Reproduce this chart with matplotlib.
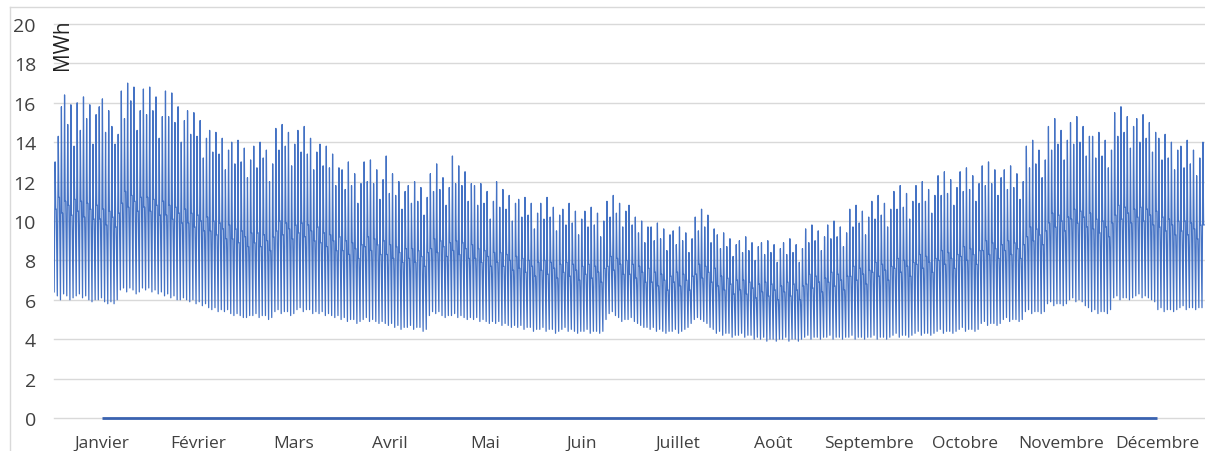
import numpy as np
import matplotlib
matplotlib.use("Agg")
import matplotlib.pyplot as plt
from matplotlib.lines import Line2D

# ---------------- data ----------------
months = ["Janvier", "Février", "Mars", "Avril", "Mai", "Juin", "Juillet",
          "Août", "Septembre", "Octobre", "Novembre", "Décembre"]
zero_series = [0, 0, 0, 0, 0, 0, 0, 0, 0, 0, 0, 0]
y_ticks = [0, 2, 4, 6, 8, 10, 12, 14, 16, 18, 20]

# daily peak of the hourly load (MWh), read week by week
day_high = [
    13.0, 14.3, 15.8, 16.4, 14.9, 15.9, 13.8,
    16.0, 14.6, 16.3, 15.2, 15.9, 13.9, 15.4,
    15.8, 16.2, 14.5, 15.6, 14.8, 13.9, 14.4,
    16.6, 15.2, 17.0, 16.1, 16.8, 14.6, 15.6,
    16.7, 15.4, 16.8, 15.6, 16.3, 14.2, 15.3,
    16.6, 15.3, 16.5, 15.0, 15.8, 14.0, 15.1,
    15.6, 14.4, 15.5, 14.3, 15.1, 13.2, 14.2,
    14.6, 13.5, 14.5, 13.4, 14.2, 12.6, 13.6,
    14.0, 12.9, 14.1, 13.0, 13.7, 12.2, 13.1,
    13.8, 12.7, 14.0, 13.2, 13.6, 12.0, 12.9,
    14.7, 13.6, 14.9, 13.8, 14.5, 12.8, 13.9,
    14.6, 13.5, 14.8, 13.4, 14.2, 12.6, 13.5,
    13.9, 12.8, 13.8, 12.7, 13.4, 11.8, 12.7,
    12.6, 11.6, 13.0, 11.8, 12.4, 10.9, 11.9,
    13.0, 12.0, 13.1, 11.9, 12.6, 11.1, 12.1,
    13.3, 11.4, 12.4, 11.3, 12.0, 10.6, 11.5,
    11.8, 10.9, 12.0, 11.0, 11.7, 10.3, 11.2,
    12.4, 11.5, 12.9, 11.6, 12.2, 10.8, 11.7,
    13.3, 11.9, 12.8, 11.8, 12.5, 11.0, 11.9,
    11.8, 10.8, 11.9, 10.9, 11.5, 10.1, 11.0,
    12.0, 10.7, 11.6, 10.6, 11.3, 10.0, 10.9,
    11.1, 10.2, 11.2, 10.3, 10.9, 9.6, 10.4,
    10.9, 10.1, 11.2, 10.2, 10.7, 9.5, 10.3,
    10.6, 9.8, 10.9, 9.9, 10.5, 9.3, 10.1,
    10.5, 9.7, 10.7, 9.8, 10.4, 9.2, 10.0,
    11.0, 10.2, 11.3, 10.4, 10.9, 9.7, 10.5,
    10.8, 9.8, 10.2, 9.4, 10.0, 8.9, 9.7,
    9.7, 9.0, 9.9, 9.1, 9.6, 8.5, 9.3,
    9.5, 8.8, 9.7, 9.0, 9.4, 8.4, 9.1,
    10.2, 9.5, 10.6, 9.7, 10.3, 8.9, 9.6,
    9.3, 8.6, 9.4, 8.7, 9.1, 8.2, 8.8,
    9.0, 8.4, 9.2, 8.5, 8.9, 8.0, 8.7,
    8.9, 8.3, 9.0, 8.4, 8.8, 7.9, 8.6,
    8.9, 8.3, 9.1, 8.4, 8.8, 7.9, 8.6,
    9.6, 8.9, 9.8, 9.0, 9.5, 8.5, 9.2,
    9.8, 9.1, 10.0, 9.2, 9.7, 8.7, 9.4,
    10.6, 9.7, 10.8, 9.9, 10.5, 9.3, 10.2,
    11.0, 10.1, 11.3, 10.3, 10.9, 9.7, 10.6,
    11.5, 10.6, 11.8, 10.7, 11.4, 10.1, 11.0,
    11.8, 10.9, 12.0, 11.0, 11.6, 10.4, 11.3,
    12.3, 11.3, 12.5, 11.4, 12.1, 10.8, 11.7,
    12.5, 11.5, 12.7, 11.6, 12.3, 11.0, 11.9,
    12.8, 11.8, 13.0, 11.9, 12.6, 11.3, 12.2,
    12.6, 11.6, 12.8, 11.7, 12.4, 11.1, 12.0,
    13.8, 12.7, 14.1, 12.9, 13.6, 12.2, 13.1,
    14.8, 13.6, 15.2, 13.9, 14.6, 13.1, 14.1,
    15.0, 13.9, 15.3, 14.0, 14.8, 13.3, 14.3,
    14.3, 13.2, 14.5, 13.3, 14.1, 12.7, 13.6,
    15.5, 14.3, 15.8, 14.5, 15.3, 13.7, 14.8,
    15.2, 14.0, 15.4, 14.2, 15.0, 13.5, 14.5,
    14.2, 13.1, 14.4, 13.2, 14.0, 12.6, 13.6,
    13.8, 12.7, 14.1, 12.9, 13.6, 12.3, 13.2,
    14.0,
]

# typical daytime / evening level of each day (MWh)
day_mid = [
    10.6, 11.2, 10.4, 11.0, 10.8, 10.3, 11.1,
    10.5, 11.0, 10.2, 10.9, 10.6, 10.1, 10.8,
    10.1, 10.6, 9.8, 10.5, 10.2, 9.7, 10.4,
    10.9, 11.5, 10.7, 11.3, 11.0, 10.5, 11.2,
    10.7, 11.2, 10.5, 11.1, 10.8, 10.3, 11.0,
    10.3, 10.8, 10.1, 10.7, 10.4, 9.9, 10.6,
    9.9, 10.4, 9.7, 10.3, 10.0, 9.5, 10.2,
    9.5, 10.0, 9.3, 9.9, 9.6, 9.1, 9.8,
    9.1, 9.6, 8.9, 9.5, 9.2, 8.7, 9.4,
    8.9, 9.4, 8.7, 9.3, 9.0, 8.5, 9.2,
    9.5, 10.0, 9.3, 9.9, 9.6, 9.1, 9.8,
    9.4, 9.9, 9.2, 9.8, 9.5, 9.0, 9.7,
    8.9, 9.4, 8.7, 9.3, 9.0, 8.5, 9.2,
    8.5, 9.0, 8.3, 8.9, 8.6, 8.1, 8.8,
    8.7, 9.2, 8.5, 9.1, 8.8, 8.3, 9.0,
    8.3, 8.8, 8.1, 8.7, 8.4, 7.9, 8.6,
    8.1, 8.6, 7.9, 8.5, 8.2, 7.7, 8.4,
    8.6, 9.1, 8.4, 9.0, 8.7, 8.2, 8.9,
    8.5, 9.0, 8.3, 8.9, 8.6, 8.1, 8.8,
    8.1, 8.6, 7.9, 8.5, 8.2, 7.7, 8.4,
    7.9, 8.4, 7.7, 8.3, 8.0, 7.5, 8.2,
    7.6, 8.1, 7.4, 8.0, 7.7, 7.2, 7.9,
    7.5, 8.0, 7.3, 7.9, 7.6, 7.1, 7.8,
    7.4, 7.9, 7.2, 7.8, 7.5, 7.0, 7.7,
    7.3, 7.8, 7.1, 7.7, 7.4, 6.9, 7.6,
    7.7, 8.2, 7.5, 8.1, 7.8, 7.3, 8.0,
    7.3, 7.8, 7.1, 7.7, 7.4, 6.9, 7.6,
    6.9, 7.4, 6.7, 7.3, 7.0, 6.5, 7.2,
    6.9, 7.4, 6.7, 7.3, 7.0, 6.5, 7.2,
    7.3, 7.8, 7.1, 7.7, 7.4, 6.9, 7.6,
    6.7, 7.2, 6.5, 7.1, 6.8, 6.3, 7.0,
    6.5, 7.0, 6.3, 6.9, 6.6, 6.1, 6.8,
    6.4, 6.9, 6.2, 6.8, 6.5, 6.0, 6.7,
    6.4, 6.9, 6.2, 6.8, 6.5, 6.0, 6.7,
    6.8, 7.3, 6.6, 7.2, 6.9, 6.4, 7.1,
    6.9, 7.4, 6.7, 7.3, 7.0, 6.5, 7.2,
    7.2, 7.7, 7.0, 7.6, 7.3, 6.8, 7.5,
    7.4, 7.9, 7.2, 7.8, 7.5, 7.0, 7.7,
    7.6, 8.1, 7.4, 8.0, 7.7, 7.2, 7.9,
    7.8, 8.3, 7.6, 8.2, 7.9, 7.4, 8.1,
    8.0, 8.5, 7.8, 8.4, 8.1, 7.6, 8.3,
    8.2, 8.7, 8.0, 8.6, 8.3, 7.8, 8.5,
    8.5, 9.0, 8.3, 8.9, 8.6, 8.1, 8.8,
    8.5, 9.0, 8.3, 8.9, 8.6, 8.1, 8.8,
    9.2, 9.7, 9.0, 9.6, 9.3, 8.8, 9.5,
    9.9, 10.4, 9.7, 10.3, 10.0, 9.5, 10.2,
    10.1, 10.6, 9.9, 10.5, 10.2, 9.7, 10.4,
    9.6, 10.1, 9.4, 10.0, 9.7, 9.2, 9.9,
    10.3, 10.8, 10.1, 10.7, 10.4, 9.9, 10.6,
    10.2, 10.7, 10.0, 10.6, 10.3, 9.8, 10.5,
    9.7, 10.2, 9.5, 10.1, 9.8, 9.3, 10.0,
    9.5, 10.0, 9.3, 9.9, 9.6, 9.1, 9.8,
    9.8,
]

# nightly minimum of the hourly load (MWh)
day_low = [
    6.4, 6.2, 6.0, 6.3, 6.2, 6.0, 6.1,
    6.2, 6.3, 6.1, 6.2, 6.0, 5.9, 6.0,
    6.0, 6.1, 5.9, 5.8, 5.9, 5.8, 6.0,
    6.5, 6.6, 6.4, 6.6, 6.5, 6.3, 6.4,
    6.6, 6.5, 6.6, 6.4, 6.5, 6.3, 6.4,
    6.2, 6.3, 6.1, 6.2, 6.0, 6.0, 6.1,
    6.0, 5.9, 6.0, 5.8, 5.9, 5.7, 5.8,
    5.6, 5.5, 5.6, 5.4, 5.5, 5.4, 5.5,
    5.3, 5.2, 5.3, 5.2, 5.1, 5.1, 5.2,
    5.2, 5.3, 5.1, 5.2, 5.2, 5.0, 5.1,
    5.4, 5.5, 5.3, 5.4, 5.4, 5.2, 5.3,
    5.5, 5.6, 5.4, 5.5, 5.5, 5.3, 5.4,
    5.3, 5.4, 5.2, 5.3, 5.2, 5.1, 5.2,
    5.0, 5.1, 4.9, 5.0, 5.0, 4.8, 4.9,
    5.0, 5.1, 4.9, 5.0, 4.9, 4.8, 4.9,
    4.8, 4.7, 4.8, 4.6, 4.7, 4.5, 4.6,
    4.6, 4.7, 4.5, 4.6, 4.6, 4.4, 4.5,
    5.2, 5.4, 5.3, 5.4, 5.2, 5.1, 5.2,
    5.2, 5.3, 5.1, 5.2, 5.1, 5.0, 5.1,
    5.0, 5.1, 4.9, 5.0, 4.9, 4.8, 4.9,
    4.8, 4.9, 4.7, 4.8, 4.7, 4.6, 4.7,
    4.6, 4.7, 4.5, 4.6, 4.6, 4.4, 4.5,
    4.5, 4.6, 4.4, 4.5, 4.5, 4.3, 4.4,
    4.5, 4.6, 4.4, 4.5, 4.4, 4.3, 4.4,
    4.4, 4.5, 4.3, 4.4, 4.4, 4.3, 4.4,
    5.0, 5.3, 5.4, 5.2, 5.1, 4.9, 5.0,
    5.0, 5.1, 4.9, 4.8, 4.7, 4.6, 4.6,
    4.5, 4.6, 4.4, 4.5, 4.4, 4.3, 4.4,
    4.4, 4.5, 4.3, 4.4, 4.5, 4.6, 4.8,
    5.0, 5.1, 5.0, 4.9, 4.8, 4.6, 4.5,
    4.3, 4.4, 4.2, 4.3, 4.3, 4.1, 4.2,
    4.2, 4.3, 4.1, 4.2, 4.2, 4.0, 4.1,
    4.0, 4.1, 3.9, 4.0, 4.0, 3.9, 4.0,
    4.0, 4.1, 3.9, 4.0, 4.0, 3.9, 4.0,
    4.1, 4.2, 4.0, 4.1, 4.1, 4.0, 4.1,
    4.1, 4.2, 4.0, 4.1, 4.1, 4.0, 4.1,
    4.1, 4.2, 4.0, 4.1, 4.1, 4.0, 4.1,
    4.1, 4.2, 4.0, 4.1, 4.1, 4.0, 4.1,
    4.2, 4.3, 4.1, 4.2, 4.2, 4.1, 4.2,
    4.3, 4.4, 4.2, 4.3, 4.3, 4.2, 4.3,
    4.4, 4.5, 4.3, 4.4, 4.4, 4.3, 4.4,
    4.5, 4.6, 4.4, 4.5, 4.5, 4.4, 4.5,
    4.8, 4.9, 4.7, 4.8, 4.8, 4.7, 4.8,
    5.0, 5.1, 4.9, 5.0, 5.0, 4.9, 5.0,
    5.4, 5.5, 5.3, 5.4, 5.4, 5.3, 5.4,
    5.8, 5.9, 5.7, 5.8, 5.8, 5.7, 5.8,
    6.0, 6.1, 5.9, 6.0, 5.9, 5.7, 5.6,
    5.4, 5.5, 5.3, 5.4, 5.4, 5.3, 5.5,
    6.1, 6.2, 6.0, 6.1, 6.1, 6.0, 6.1,
    6.2, 6.3, 6.1, 6.2, 6.1, 6.0, 5.9,
    5.5, 5.6, 5.4, 5.5, 5.5, 5.4, 5.5,
    5.6, 5.7, 5.5, 5.6, 5.6, 5.5, 5.6,
    5.6,
]

# ---------------- figure ----------------
W, H = 1205, 452
fig = plt.figure(figsize=(W / 100, H / 100), dpi=100)
fig.patch.set_facecolor("white")

L, R, T, B = 54, 1205, 25, 419
ax = fig.add_axes([L / W, 1 - B / H, (R - L) / W, (B - T) / H])

n_days = len(day_high)
ax.set_xlim(0, 365)
ax.set_ylim(0, 20)

# each day: night low -> peak -> daytime level (held) -> next night
days = np.arange(n_days)
xs = np.column_stack([days + 0.05, days + 0.35, days + 0.55, days + 0.72]).ravel()
ys = np.column_stack([day_low, day_high, day_mid, day_mid]).ravel()
ax.plot(xs, ys, color="#4472C4", linewidth=0.9, zorder=3)

# monthly zero series at category centers
month_w = 365 / 12
mx = (np.arange(12) + 0.5) * month_w
ax.plot(mx, zero_series, color="#3A62B0", linewidth=2.0, zorder=4, clip_on=False,
        solid_capstyle="butt")

# grid
for v in y_ticks:
    ax.axhline(v, color="#D9D9D9", linewidth=1.0, zorder=1, clip_on=False)

for s in ax.spines.values():
    s.set_visible(False)

font = "Open Sans"
ax.set_yticks(y_ticks)
ax.set_yticklabels([str(v) for v in y_ticks], fontsize=14, family=font, color="#404040")
ax.set_xticks(mx)
ax.set_xticklabels(months, fontsize=12.5, family=font, color="#404040")
ax.tick_params(axis="y", length=0, pad=13)
ax.tick_params(axis="x", length=0, pad=12)

fig.text(63 / W, 1 - 45 / H, "MWh", rotation=90, ha="center", va="center",
         fontsize=15, family=font, color="#202020")

# chart frame (partially visible)
fig.add_artist(Line2D([10 / W, 10 / W], [0, 1 - 8 / H], transform=fig.transFigure,
                      color="#D9D9D9", linewidth=1.0))
fig.add_artist(Line2D([10 / W, 1], [1 - 8 / H, 1 - 8 / H], transform=fig.transFigure,
                      color="#D9D9D9", linewidth=1.0))

fig.savefig("out.png", dpi=100, facecolor="white")
